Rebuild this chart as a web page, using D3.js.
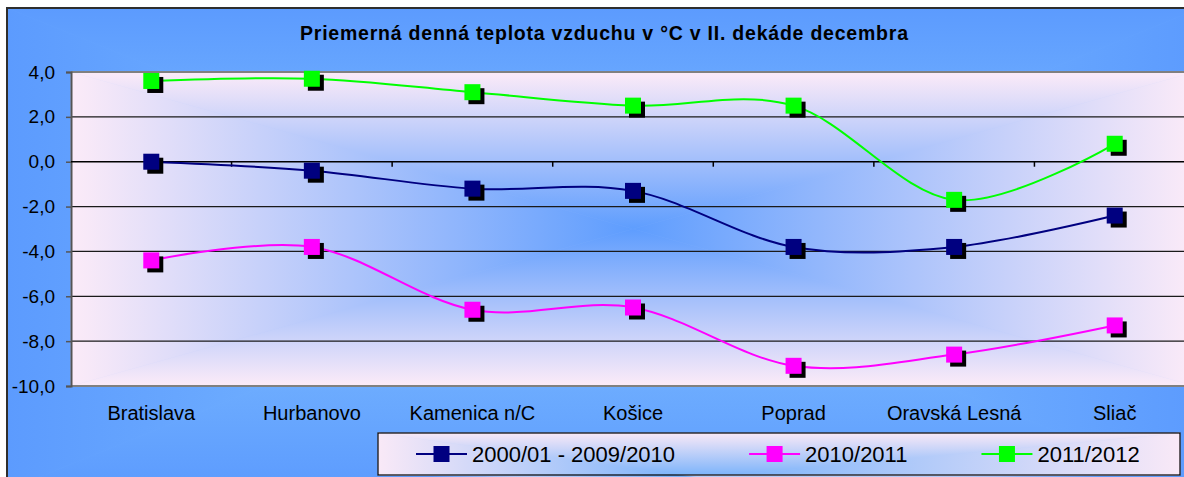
<!DOCTYPE html>
<html>
<head>
<meta charset="utf-8">
<script src="https://cdn.jsdelivr.net/npm/d3@7"></script>
<style>
	body { margin: 0; background: #fff; }
	svg { display: block; font-family: "Liberation Sans", Arial, sans-serif; }
</style>
</head>
<body>
<div id="chart"></div>
<script>
// values
const categories = ["Bratislava", "Hurbanovo", "Kamenica n/C", "Košice", "Poprad", "Oravská Lesná", "Sliač"];
const seriesNames = ["2000/01 - 2009/2010", "2010/2011", "2011/2012"];
const seriesColors = ["#000080", "#ff00ff", "#00ff00"];
const longTerm = [0.0, -0.4, -1.2, -1.3, -3.8, -3.8, -2.4];
const winter2010 = [-4.4, -3.8, -6.6, -6.5, -9.1, -8.6, -7.3];
const winter2011 = [3.6, 3.7, 3.1, 2.5, 2.5, -1.7, 0.8];
const yTicks = [4, 2, 0, -2, -4, -6, -8, -10];
const titleText = "Priemerná denná teplota vzduchu v °C v II. dekáde decembra";

const W = 1184, H = 477;
const frame = { left: 7, top: 8, right: 1201, bottom: 490 };
const plot = { left: 71, top: 72, right: 1195, bottom: 386 };

const svg = d3.select("#chart").append("svg")
	.attr("width", W)
	.attr("height", H);
const defs = svg.append("defs");

const locale = d3.formatLocale({ decimal: ",", thousands: " ", grouping: [3], currency: ["", ""], minus: "-" });
const fmt = locale.format(".1f");

// office style "from center" fill: four wedges each with its own linear gradient
function centerFill(g, id, box, cx, cy, edge, center) {
	var wedges = [
		{ pts: [[box.left, box.top], [box.right, box.top]], from: [cx, box.top] },
		{ pts: [[box.right, box.top], [box.right, box.bottom]], from: [box.right, cy] },
		{ pts: [[box.right, box.bottom], [box.left, box.bottom]], from: [cx, box.bottom] },
		{ pts: [[box.left, box.bottom], [box.left, box.top]], from: [box.left, cy] }
	];
	g.append("rect")
		.attr("x", box.left).attr("y", box.top)
		.attr("width", box.right - box.left).attr("height", box.bottom - box.top)
		.attr("fill", d3.interpolateRgb(edge, center)(0.5));
	wedges.forEach(function(w, i) {
		var gid = id + "-" + i;
		var lg = defs.append("linearGradient")
			.attr("id", gid)
			.attr("gradientUnits", "userSpaceOnUse")
			.attr("x1", w.from[0]).attr("y1", w.from[1])
			.attr("x2", i % 2 ? cx : w.from[0]).attr("y2", i % 2 ? w.from[1] : cy);
		lg.append("stop").attr("offset", 0).attr("stop-color", edge);
		lg.append("stop").attr("offset", 1).attr("stop-color", center);
		g.append("path")
			.attr("d", "M" + w.pts[0] + "L" + w.pts[1] + "L" + [cx, cy] + "Z")
			.attr("fill", "url(#" + gid + ")")
			.attr("stroke", "url(#" + gid + ")")
			.attr("stroke-width", 0.6);
	});
}

// outer chart area
const bg = svg.append("g");
centerFill(bg, "outer", frame, (frame.left + frame.right) / 2, (frame.top + frame.bottom) / 2, "#5c9bfe", "#83c2ff");
svg.append("rect")
	.attr("x", frame.left).attr("y", frame.top)
	.attr("width", frame.right - frame.left).attr("height", frame.bottom - frame.top)
	.attr("fill", "none").attr("stroke", "#2e2e2e").attr("stroke-width", 2);

// plot area
const pg = svg.append("g");
centerFill(pg, "plot", plot, (plot.left + plot.right) / 2, (plot.top + plot.bottom) / 2, "#fcebf8", "#5e9dfe");

const x = d3.scaleBand().domain(categories).range([plot.left, plot.right]);
const y = d3.scaleLinear().domain([-10, 4]).range([plot.bottom, plot.top]);
const cx = d => x(d) + x.bandwidth() / 2;

// gridlines
svg.append("g").selectAll("line")
	.data(yTicks.filter(d => d > -10 && d < 4 && d !== 0))
	.join("line")
	.attr("x1", plot.left).attr("x2", plot.right)
	.attr("y1", d => y(d)).attr("y2", d => y(d))
	.attr("stroke", "#1a1a1a").attr("stroke-width", 1.2);

// plot border top/bottom
svg.append("line")
	.attr("x1", plot.left).attr("x2", plot.right).attr("y1", plot.top).attr("y2", plot.top)
	.attr("stroke", "#808080").attr("stroke-width", 2);
svg.append("line")
	.attr("x1", plot.left).attr("x2", plot.right).attr("y1", plot.bottom).attr("y2", plot.bottom)
	.attr("stroke", "#808080").attr("stroke-width", 2);

// y axis
const yAxis = svg.append("g")
	.attr("transform", "translate(" + plot.left + ",0)")
	.call(d3.axisLeft(y).tickValues(yTicks).tickSize(5).tickPadding(11).tickFormat(fmt));
yAxis.select(".domain").attr("stroke", "#555").attr("stroke-width", 2);
yAxis.selectAll(".tick line").attr("stroke", "#555").attr("stroke-width", 1.5);
yAxis.selectAll("text").attr("font-size", 19).attr("fill", "#000").attr("font-family", "Liberation Sans, Arial, sans-serif");

// category axis sits on zero
svg.append("line")
	.attr("x1", plot.left).attr("x2", plot.right).attr("y1", y(0)).attr("y2", y(0))
	.attr("stroke", "#000").attr("stroke-width", 1.5);
svg.append("g").selectAll("line")
	.data(categories.slice(1))
	.join("line")
	.attr("x1", d => x(d)).attr("x2", d => x(d))
	.attr("y1", y(0)).attr("y2", y(0) + 5)
	.attr("stroke", "#000").attr("stroke-width", 1.5);

svg.append("g").selectAll("text")
	.data(categories)
	.join("text")
	.attr("x", cx)
	.attr("y", 420)
	.attr("text-anchor", "middle")
	.attr("font-size", 20)
	.text(d => d);

// series
const series = [longTerm, winter2010, winter2011].map(function(vals, i) {
	return { name: seriesNames[i], color: seriesColors[i], values: vals.map((v, j) => ({ cat: categories[j], v: v })) };
});

const line = d3.line()
	.x(d => cx(d.cat))
	.y(d => y(d.v))
	.curve(d3.curveCatmullRom.alpha(0));

const M = 16;
const sg = svg.append("g").selectAll("g").data(series).join("g");
sg.append("path")
	.attr("d", d => line(d.values))
	.attr("fill", "none")
	.attr("stroke", d => d.color)
	.attr("stroke-width", 2);
sg.each(function(s) {
	var g = d3.select(this);
	g.selectAll(".shadow").data(s.values).join("rect")
		.attr("class", "shadow")
		.attr("x", d => cx(d.cat) - M / 2 + 4)
		.attr("y", d => y(d.v) - M / 2 + 4)
		.attr("width", M).attr("height", M)
		.attr("fill", "#000");
	g.selectAll(".marker").data(s.values).join("rect")
		.attr("class", "marker")
		.attr("x", d => cx(d.cat) - M / 2)
		.attr("y", d => y(d.v) - M / 2)
		.attr("width", M).attr("height", M)
		.attr("fill", s.color);
});

// title
svg.append("text")
	.attr("x", 604)
	.attr("y", 40)
	.attr("text-anchor", "middle")
	.attr("font-size", 19.5)
	.attr("font-weight", "bold")
	.attr("textLength", 608)
	.attr("lengthAdjust", "spacing")
	.text(titleText);

// legend
const lbox = { left: 378, top: 433, right: 1180, bottom: 475 };
const lg = svg.append("g");
centerFill(lg, "legend", lbox, 700, 478, "#f9e9f7", "#74b0fb");
lg.append("rect")
	.attr("x", lbox.left).attr("y", lbox.top)
	.attr("width", lbox.right - lbox.left).attr("height", lbox.bottom - lbox.top)
	.attr("fill", "none").attr("stroke", "#000").attr("stroke-width", 1.2);

var lx = 416;
const ly = 454;
series.forEach(function(s) {
	lg.append("line")
		.attr("x1", lx).attr("x2", lx + 51).attr("y1", ly).attr("y2", ly)
		.attr("stroke", s.color).attr("stroke-width", 2);
	lg.append("rect")
		.attr("x", lx + 25.5 - 8).attr("y", ly - 8)
		.attr("width", 16).attr("height", 16)
		.attr("fill", s.color);
	var t = lg.append("text")
		.attr("x", lx + 56)
		.attr("y", ly + 8)
		.attr("font-size", 22)
		.text(s.name);
	lx = lx + 56 + t.node().getComputedTextLength() + 74;
});
</script>
</body>
</html>
